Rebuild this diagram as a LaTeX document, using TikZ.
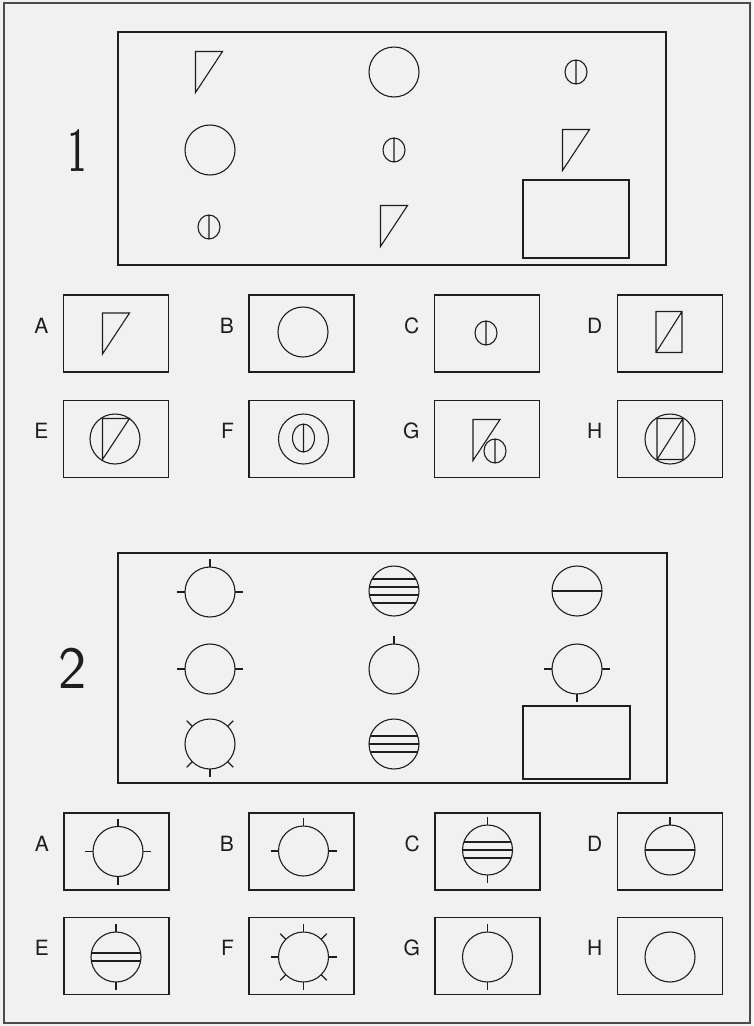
\documentclass[tikz,border=0pt]{standalone}
\usepackage{fontspec}
\newfontfamily\heros{TeX Gyre Heros}
\usetikzlibrary{positioning}
\definecolor{paper}{HTML}{F1F1F1}
\definecolor{ink}{HTML}{1E1E1E}

\begin{document}
\begin{tikzpicture}[x=1pt, y=-1pt, node distance=14pt,
  frame/.style={draw=ink, line width=1.8pt},
  cell/.style={rectangle, draw=ink, line width=1.8pt, minimum width=105pt, minimum height=77pt, inner sep=0pt},
  tag/.style={font=\heros\fontsize{21}{21}\selectfont, text=ink, inner sep=0pt, yshift=8pt},
  fig/.style={draw=ink, line width=1.1pt},
  pics/wedge/.style={code={\draw[fig] (-13.5,-20.5) -- (13.5,-20.5) -- (-13.5,20.5) -- cycle;}},
  pics/disc/.style={code={\draw[fig] (0,0) circle[radius=25pt];}},
  pics/dot/.style={code={\draw[fig] (0,0) circle[x radius=11pt, y radius=12pt] (0,-12) -- (0,12);}},
  pics/slashbox/.style={code={\draw[fig] (-13,-20.5) rectangle (13,20.5) (-13,20.5) -- (13,-20.5);}},
  pics/bars/.style={code={\foreach \d in {#1} \draw[fig] ({-sqrt(625-(\d)*(\d))},\d) -- ({sqrt(625-(\d)*(\d))},\d);}},
  pics/spokes/.style={code={\foreach \dx/\dy in {#1} \draw[fig] ({25*\dx},{25*\dy}) -- ({33*\dx},{33*\dy});}},
]
  % Page
  \fill[paper] (0,0) rectangle (753,1026);
  \useasboundingbox (0,0) rectangle (753,1026);
  \draw[draw=ink!80, line width=1.3pt] (4,3) rectangle (750,1023);

  % Puzzle 1: matrix
  \node[text=ink, font=\fontsize{64}{64}\selectfont\bfseries] (one-tag) at (78,151) {\scalebox{0.5}[1]{1}};
  \draw[frame] (118,32) rectangle (666,265);
  \draw[frame] (523,180) rectangle (629,258);
  \pic at (209,72) {wedge};
  \pic at (394,72) {disc};
  \pic at (576,72) {dot};
  \pic at (210,150) {disc};
  \pic at (394,150) {dot};
  \pic at (576,150) {wedge};
  \pic at (209,227) {dot};
  \pic at (394,226) {wedge};

  % Puzzle 1: answers A-D
  \node[cell] (one-A) at (116,333.5) {};
  \node[cell] (one-B) at (301.5,333.5) {};
  \node[cell] (one-C) at (487,333.5) {};
  \node[cell] (one-D) at (670,333.5) {};
  \node[tag, left=of one-A] (lbl-one-A) {A};
  \node[tag, left=of one-B] (lbl-one-B) {B};
  \node[tag, left=of one-C] (lbl-one-C) {C};
  \node[tag, left=of one-D] (lbl-one-D) {D};
  \pic at (116,333.5) {wedge};
  \pic at (303,332) {disc};
  \pic at (486,333) {dot};
  \pic at (669,332) {slashbox};

  % Puzzle 1: answers E-H
  \node[cell] (one-E) at (116,439) {};
  \node[cell] (one-F) at (301.5,439) {};
  \node[cell] (one-G) at (487,439) {};
  \node[cell] (one-H) at (670,439) {};
  \node[tag, left=of one-E] (lbl-one-E) {E};
  \node[tag, left=of one-F] (lbl-one-F) {F};
  \node[tag, left=of one-G] (lbl-one-G) {G};
  \node[tag, left=of one-H] (lbl-one-H) {H};
  \pic at (115,439) {disc};
  \pic at (116,439) {wedge};
  \pic at (303.5,439) {disc};
  \draw[fig] (303.5,438) circle[x radius=11pt, y radius=14pt] (303.5,424) -- (303.5,452);
  \pic at (486.5,440) {wedge};
  \pic at (495,451) {dot};
  \pic at (670,439) {disc};
  \pic at (670,439) {slashbox};

  % Puzzle 2: matrix
  \node[font=\sffamily\fontsize{60}{60}\selectfont, text=ink] (two-tag) at (73,668) {2};
  \draw[frame] (118,553) rectangle (667,783);
  \draw[frame] (523,706) rectangle (630,779);
  \pic at (210,592) {disc};  \pic at (210,592) {spokes={0/-1,-1/0,1/0}};
  \pic at (394,591) {disc};  \pic at (394,591) {bars={-12,-4,4,12}};
  \pic at (577,591) {disc};  \pic at (577,591) {bars={0}};
  \pic at (210,669) {disc};  \pic at (210,669) {spokes={-1/0,1/0}};
  \pic at (394,669) {disc};  \pic at (394,669) {spokes={0/-1}};
  \pic at (577,669) {disc};  \pic at (577,669) {spokes={-1/0,1/0,0/1}};
  \pic at (210,744) {disc};  \pic at (210,744) {spokes={-.707/-.707,.707/-.707,-.707/.707,.707/.707,0/1}};
  \pic at (394,744) {disc};  \pic at (394,744) {bars={-8,0,8}};

  % Puzzle 2: answers A-D
  \node[cell] (two-A) at (116.5,851.5) {};
  \node[cell] (two-B) at (301.5,851.5) {};
  \node[cell] (two-C) at (487.5,851.5) {};
  \node[cell] (two-D) at (670,851.5) {};
  \node[tag, left=of two-A] (lbl-two-A) {A};
  \node[tag, left=of two-B] (lbl-two-B) {B};
  \node[tag, left=of two-C] (lbl-two-C) {C};
  \node[tag, left=of two-D] (lbl-two-D) {D};
  \pic at (118,851.5) {disc};  \pic at (118,851.5) {spokes={0/-1,0/1,-1/0,1/0}};
  \pic at (303.5,851) {disc};  \pic at (303.5,851) {spokes={0/-1,-1/0,1/0}};
  \pic at (487.5,850) {disc};  \pic at (487.5,850) {bars={-8,0,8}};
  \pic at (487.5,850) {spokes={0/-1,0/1}};
  \pic at (670,850) {disc};    \pic at (670,850) {bars={0}};
  \pic at (670,850) {spokes={0/-1}};

  % Puzzle 2: answers E-H
  \node[cell] (two-E) at (116.5,956) {};
  \node[cell] (two-F) at (301.5,956) {};
  \node[cell] (two-G) at (487.5,956) {};
  \node[cell] (two-H) at (670,956) {};
  \node[tag, left=of two-E] (lbl-two-E) {E};
  \node[tag, left=of two-F] (lbl-two-F) {F};
  \node[tag, left=of two-G] (lbl-two-G) {G};
  \node[tag, left=of two-H] (lbl-two-H) {H};
  \pic at (116,957) {disc};    \pic at (116,957) {bars={-4,4}};
  \pic at (116,957) {spokes={0/-1,0/1}};
  \pic at (303.5,957) {disc};
  \pic at (303.5,957) {spokes={0/-1,0/1,-1/0,1/0,-.707/-.707,.707/-.707,-.707/.707,.707/.707}};
  \pic at (487.5,957) {disc};  \pic at (487.5,957) {spokes={0/-1,0/1}};
  \pic at (670,957) {disc};
\end{tikzpicture}
\end{document}
